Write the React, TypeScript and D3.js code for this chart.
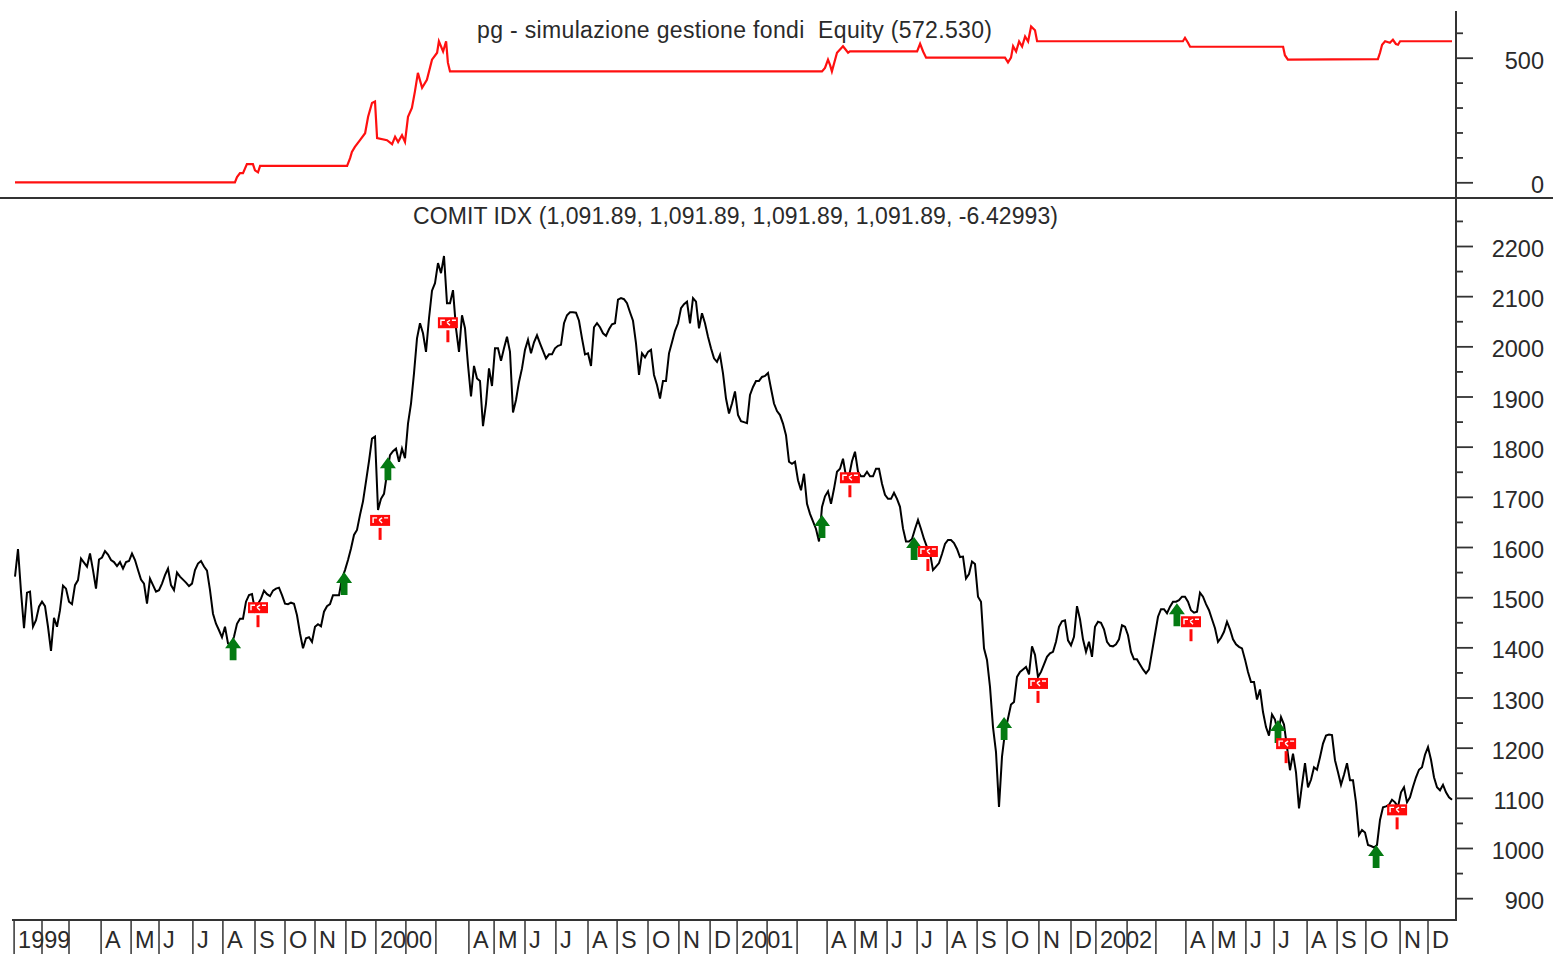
import { useEffect, useRef } from 'react'
import * as d3 from 'd3'

// closes, one reading every session step
const close1999 = [1541,1596,1511,1438,1509,1511,1441,1454,1481,1491,1482,1441,1393,1459,1441,1474,1523,1517,1491,1486,1524,1534,1577,1569,1561,1587,1554,1517,1575,1579,1592,1585,1574,1570,1562,1570,1557,1570,1572,1587,1574,1554,1535,1527,1487,1537,1524,1511,1514,1527,1544,1557,1524,1514,1549,1541,1535,1529,1522,1527,1554,1567,1572,1561,1553,1514,1467,1447,1434,1420,1441,1408,1404,1421,1447,1457,1457,1491,1504,1506,1474,1487,1497,1513,1506,1502,1513,1517,1519,1504,1487,1486,1489,1487,1464,1428,1398,1418,1420,1411,1441,1446,1442,1471,1482,1486,1504,1504,1504,1537,1554,1574,1597,1624,1634,1664,1691,1731,1771,1816,1820]
const close2000 = [1674,1696,1706,1746,1783,1791,1796,1770,1796,1777,1846,1886,1946,2016,2046,2026,1989,2056,2111,2126,2166,2146,2180,2086,2086,2112,2036,1989,2062,2036,1963,1900,1961,1936,1931,1841,1886,1956,1921,1996,1996,1971,1996,2019,1989,1868,1893,1929,1956,1993,2013,1986,2008,2022,2006,1991,1976,1984,1984,1996,2001,2003,2046,2062,2068,2068,2067,2051,2016,1984,1986,1961,2038,2046,2038,2026,2021,2034,2044,2046,2093,2096,2094,2086,2068,2051,2006,1943,1986,1978,1989,1993,1943,1923,1896,1931,1931,1986,2008,2031,2046,2076,2084,2089,2046,2096,2089,2036,2066,2046,2019,1996,1976,1969,1983,1946,1896,1866,1886,1910,1863,1851]
const close2001 = [1849,1847,1903,1919,1931,1931,1939,1941,1947,1916,1886,1871,1863,1846,1823,1770,1766,1770,1733,1713,1746,1686,1666,1651,1636,1611,1680,1701,1711,1686,1716,1750,1756,1776,1741,1741,1771,1790,1750,1741,1741,1750,1741,1741,1756,1756,1726,1704,1696,1696,1708,1696,1680,1637,1611,1611,1616,1636,1654,1636,1616,1600,1588,1554,1561,1568,1586,1606,1614,1614,1608,1596,1580,1581,1537,1546,1571,1566,1501,1491,1398,1375,1321,1241,1191,1082,1182,1231,1258,1286,1291,1341,1351,1356,1361,1346,1402,1385,1341,1351,1366,1381,1388,1391,1411,1441,1452,1454,1414,1404,1421,1482,1456,1416,1391,1411,1381,1441,1451,1449]
const close2002 = [1436,1411,1403,1402,1406,1416,1444,1441,1424,1391,1376,1376,1366,1356,1348,1356,1391,1426,1461,1476,1476,1468,1481,1491,1491,1494,1501,1501,1491,1474,1469,1471,1509,1501,1486,1474,1456,1438,1411,1419,1431,1451,1436,1416,1406,1401,1398,1376,1351,1331,1331,1296,1316,1271,1241,1224,1266,1256,1228,1261,1246,1201,1155,1188,1151,1079,1126,1169,1121,1136,1161,1156,1181,1208,1224,1226,1225,1175,1151,1126,1146,1169,1135,1135,1091,1026,1036,1031,1006,1004,1001,1006,1056,1081,1083,1086,1096,1091,1082,1111,1121,1091,1101,1122,1141,1156,1161,1186,1201,1176,1141,1121,1115,1126,1111,1101,1096]

const equitySessions = [0,73.3,74,75,76,77.3,79.3,80,81,81.7,110.7,111.7,112.3,113.3,115,116.7,117.7,119,120,120.7,124,125.7,126.7,127.7,129,130,131,132.3,133.3,134.3,135.7,137.3,139,140.7,141.3,142.7,143.7,144.3,145,269,270,271,271.7,272.3,274,276,277.7,278.3,300.7,301.7,302.7,303.7,330,331,332,332.7,333.7,334.7,335.7,336.7,337.7,338.7,340,340.7,389.3,390,391,391.7,422.7,423.3,424.3,454.3,455,455.7,456.7,458.3,459.3,460.3,461,461.7,479]
const equityValues = [0,0,21,37,37,73,73,48,40,66,66,97,122,142,169,197,263,318,324,177,169,153,183,162,189,162,263,298,364,439,379,411,492,520,566,525,566,480,445,445,459,492,470,445,520,546,520,525,525,556,525,500,500,481,500,546,525,565,545,585,565,625,610,566,566,580,560,544,544,510,492,494,520,552,566,560,572,555,552,566,566]

const buySessions = [72.7,109.7,124.3,269,299.7,329.7,387.3,421,453.7]
const buyPrices = [1420,1550,1779,1664,1620,1261,1488,1255,1006]
const sellSessions = [81,121.7,144.3,278.3,304.3,341,392,423.7,460.7]
const sellPrices = [1490,1664,2058,1749,1602,1339,1462,1219,1087]

const monthSessions = [-0.3,9,18,28.7,38.7,48,59.3,69.3,80,90,100,110.3,120.3,130.3,140.3,151.3,159.7,170,180.3,191,200.7,211,221.3,231.7,240.7,250.7,260.7,270.7,280,290.7,300.7,310.7,320.7,330.7,341.3,352,360.3,370.7,380.3,390.3,399.3,410.3,419.7,430.7,440.7,450.3,461.7,471]
const monthLabels = ['1999','','','A','M','J','J','A','S','O','N','D','2000','','','A','M','J','J','A','S','O','N','D','2001','','','A','M','J','J','A','S','O','N','D','2002','','','A','M','J','J','A','S','O','N','D']

const priceTicks = d3.range(900, 2251, 50)
const priceLabels = d3.range(900, 2201, 100)
const equityTicks = d3.range(0, 601, 100)
const equityLabels = [0, 500]

const equityTitle = 'pg - simulazione gestione fondi  Equity (572.530)'
const priceTitle = 'COMIT IDX (1,091.89, 1,091.89, 1,091.89, 1,091.89, -6.42993)'

const width = 1553
const height = 954
const axisX = 1456
const font = '"Liberation Sans", Arial, sans-serif'
const textColor = '#2a2a2a'
const axisColor = '#333'

export default function App() {
  const svgRef = useRef<SVGSVGElement>(null)

  useEffect(() => {
    if (!svgRef.current) return
    document.body.style.margin = '0'

    const svg = d3.select(svgRef.current)
    svg.selectAll('*').remove()

    const closes = [...close1999, ...close2000, ...close2001, ...close2002]

    const x = d3.scaleLinear().domain([0, 479]).range([15, 1452])
    const yPrice = d3.scaleLinear().domain([1000, 2200]).range([848, 246])
    const yEquity = d3.scaleLinear().domain([0, 500]).range([182.3, 57.7])

    // Frame lines
    svg.append('line').attr('x1', axisX).attr('x2', axisX).attr('y1', 11).attr('y2', 921)
      .attr('stroke', axisColor).attr('stroke-width', 2)
    svg.append('line').attr('x1', 0).attr('x2', width).attr('y1', 198).attr('y2', 198)
      .attr('stroke', axisColor).attr('stroke-width', 2)
    svg.append('line').attr('x1', 12).attr('x2', axisX).attr('y1', 920).attr('y2', 920)
      .attr('stroke', axisColor).attr('stroke-width', 2)

    // Right hand ticks, both panels
    const drawAxis = (scale: d3.ScaleLinear<number, number>, ticks: number[], labels: number[]) => {
      const g = svg.append('g').attr('transform', `translate(${axisX},0)`)
      g.call(d3.axisRight(scale).tickValues(ticks).tickSize(7).tickFormat(() => ''))
      g.select('.domain').remove()
      g.selectAll('.tick line')
        .attr('stroke', axisColor)
        .attr('stroke-width', 1.8)
        .attr('x2', (d: any) => (labels.includes(d) ? 17 : 7))
      labels.forEach(v => {
        g.append('text')
          .attr('x', 88)
          .attr('y', scale(v) + 11)
          .attr('text-anchor', 'end')
          .attr('font-family', font)
          .attr('font-size', 23.5)
          .attr('fill', textColor)
          .text(v)
      })
    }
    drawAxis(yEquity, equityTicks, equityLabels)
    drawAxis(yPrice, priceTicks, priceLabels)

    // Month ticks and labels
    monthSessions.forEach((s, i) => {
      svg.append('line')
        .attr('x1', x(s)).attr('x2', x(s))
        .attr('y1', 920).attr('y2', height)
        .attr('stroke', axisColor)
        .attr('stroke-width', 1.5)
      if (monthLabels[i]) {
        svg.append('text')
          .attr('x', x(s) + 4)
          .attr('y', 948)
          .attr('font-family', font)
          .attr('font-size', 23.5)
          .attr('fill', textColor)
          .text(monthLabels[i])
      }
    })

    // Titles
    svg.append('text')
      .attr('x', 477).attr('y', 38)
      .attr('font-family', font).attr('font-size', 23).attr('fill', textColor)
      .attr('textLength', 515).attr('xml:space', 'preserve').style('white-space', 'pre')
      .text(equityTitle)
    svg.append('text')
      .attr('x', 413).attr('y', 224)
      .attr('font-family', font).attr('font-size', 23).attr('fill', textColor)
      .attr('textLength', 645)
      .text(priceTitle)

    // Equity line
    const equityLine = d3.line<number>()
      .x((_, i) => x(equitySessions[i]))
      .y(d => yEquity(d))
    svg.append('path')
      .attr('d', equityLine(equityValues))
      .attr('fill', 'none')
      .attr('stroke', '#ff1010')
      .attr('stroke-width', 2.2)

    // Price line
    const priceLine = d3.line<number>()
      .x((_, i) => x(i))
      .y(d => yPrice(d))
    svg.append('path')
      .attr('d', priceLine(closes))
      .attr('fill', 'none')
      .attr('stroke', '#000')
      .attr('stroke-width', 2)

    // Buy arrows
    const arrow = d3.path()
    arrow.moveTo(0, 0)
    arrow.lineTo(8, 11)
    arrow.lineTo(3.4, 11)
    arrow.lineTo(3.4, 23)
    arrow.lineTo(-3.4, 23)
    arrow.lineTo(-3.4, 11)
    arrow.lineTo(-8, 11)
    arrow.closePath()
    buySessions.forEach((s, i) => {
      svg.append('path')
        .attr('transform', `translate(${x(s)},${yPrice(buyPrices[i])})`)
        .attr('d', arrow.toString())
        .attr('fill', '#047a12')
    })

    // Sell flags
    sellSessions.forEach((s, i) => {
      const g = svg.append('g')
        .attr('transform', `translate(${x(s)},${yPrice(sellPrices[i])})`)
      g.append('rect').attr('x', -10).attr('y', 0).attr('width', 20).attr('height', 11).attr('fill', '#ff0a0a')
      g.append('rect').attr('x', -1.5).attr('y', 13).attr('width', 3).attr('height', 12).attr('fill', '#ff0a0a')
      g.append('path')
        .attr('d', 'M-7,8V3H-3M-1,5L2,3M-1,5L2,8M4,3H8')
        .attr('fill', 'none')
        .attr('stroke', '#fff')
        .attr('stroke-width', 1.4)
    })
  }, [])

  return <svg ref={svgRef} width={width} height={height} style={{ position: 'absolute', left: 0, top: 0, background: '#fff' }} />
}
